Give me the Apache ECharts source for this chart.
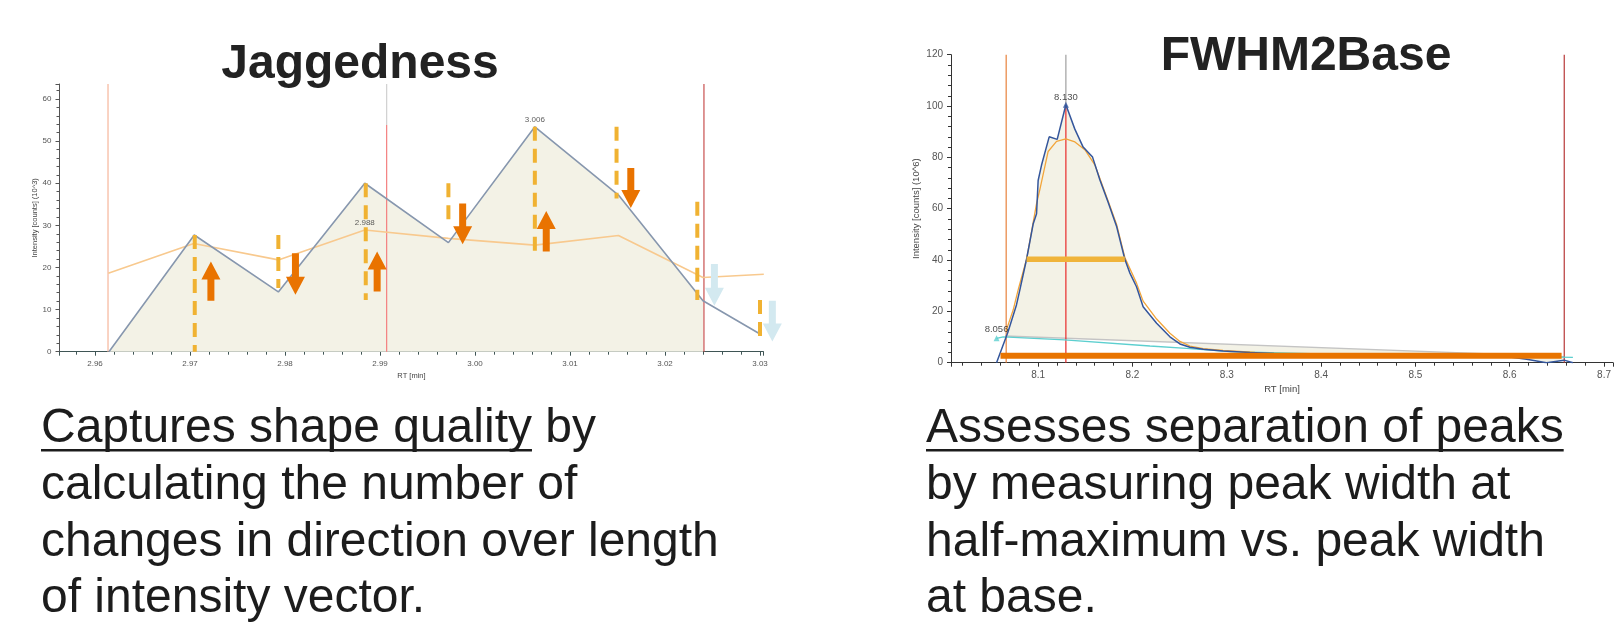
<!DOCTYPE html>
<html><head><meta charset="utf-8">
<script src="https://cdn.jsdelivr.net/npm/echarts@6/dist/echarts.min.js"></script>
<style>html,body{margin:0;padding:0;background:#fff}#c{width:1614px;height:627px}</style>
</head><body><div id="c"></div>
<script>
// ---------- LEFT: Jaggedness ----------
const leftRT        = [2.96147, 2.97045, 2.9793, 2.9884, 2.9972, 3.0063, 3.0151, 3.0240, 3.0300];
const leftIntensity = [0, 27.7, 14.2, 40.0, 25.9, 53.4, 37.2, 12.1, 4.2];
const leftSmoothRT  = [2.9614, 2.9704, 2.9793, 2.9884, 2.9972, 3.0063, 3.0151, 3.0240, 3.0304];
const leftSmooth    = [18.6, 25.7, 21.8, 28.9, 26.9, 25.3, 27.6, 17.6, 18.4];
const leftFillEndRT = 3.0240;
const leftDashRT     = [2.9705, 2.9793, 2.9885, 2.9972, 3.0063, 3.0149, 3.0234, 3.0300];
const leftDashTop    = [27.7, 27.7, 40.0, 40.0, 53.4, 53.4, 35.6, 12.3];
const leftDashBottom = [0, 15.1, 12.3, 29.7, 23.7, 36.4, 12.3, 2.8];
const leftArrowRT   = [2.9722, 2.9811, 2.9897, 2.9987, 3.0075, 3.0164];
const leftArrowFrom = [12.1, 23.4, 14.3, 35.2, 23.8, 43.6];
const leftArrowTo   = [21.4, 13.5, 23.8, 25.5, 33.4, 34.1];
const leftFadedArrowRT   = [3.0252, 3.0313];
const leftFadedArrowFrom = [20.8, 12.1];
const leftFadedArrowTo   = [10.9, 2.4];
const leftMarkRT   = [2.96137, 2.9907, 2.9907, 3.0241];
const leftMarkFrom = [0, 0, 53.8, 0];
const leftMarkTo   = [63.56, 53.8, 63.56, 63.56];
const leftLabelRT  = [3.0063, 2.9884];
const leftLabelY   = [55.0, 30.5];
const leftLabelText= ['3.006', '2.988'];

// ---------- RIGHT: FWHM2Base ----------
const rightRT = [8.0559, 8.068, 8.077, 8.0806, 8.0877, 8.0947, 8.0983, 8.1000, 8.1036, 8.1117, 8.1202, 8.1294, 8.1389, 8.1477, 8.1577, 8.1654, 8.1742, 8.1831, 8.1919, 8.1973, 8.2043, 8.2113, 8.2256, 8.2397, 8.2503, 8.2609, 8.275, 8.2962, 8.3245, 8.35, 8.4, 8.45, 8.5, 8.55, 8.6, 8.618, 8.639, 8.6577, 8.667];
const rightIntensity = [0, 12, 22.5, 28.4, 40.3, 54, 58, 71, 77, 88, 87, 100.5, 91, 84, 80.1, 71.3, 62.5, 53.2, 40.3, 34.9, 29.6, 21.8, 15.4, 10.1, 7.3, 6.0, 5.2, 4.6, 4.0, 3.6, 3.2, 3.0, 2.8, 2.6, 2.2, 1.3, 0, 1.0, 0];
const rightFitRT = [8.0661, 8.0735, 8.0788, 8.0877, 8.0983, 8.1018, 8.1106, 8.1195, 8.1294, 8.139, 8.1495, 8.1601, 8.1742, 8.1831, 8.1919, 8.2043, 8.2113, 8.2256, 8.2397, 8.2503, 8.2609, 8.275, 8.296, 8.33];
const rightFit   = [12.5, 20.5, 28.4, 40.3, 62, 67.4, 82.3, 86.2, 87.2, 86.0, 83.0, 77.1, 63, 54, 41, 31, 24, 17, 11.5, 8.3, 6.5, 5.5, 4.8, 4.0];
const rightBaseRT = [8.065, 8.658];
const rightBase   = [10.4, 2.4];
const rightCyanRT = [8.0559, 8.063, 8.128, 8.2185, 8.2573, 8.3033, 8.4, 8.5, 8.6, 8.667];
const rightCyan   = [9.5, 10.1, 8.9, 6.5, 5.6, 4.3, 3.4, 2.9, 2.5, 2.1];
const rightHalfRT = [8.0877, 8.1919];
const rightHalfY  = 40.3;
const rightBaseBarRT = [8.0601, 8.655];
const rightBaseBarY  = 2.7;
const rightMarkRT   = [8.0661, 8.1294, 8.1294, 8.6578];
const rightMarkFrom = [0, 0, 100.5, 0];
const rightMarkTo   = [120, 100.5, 120, 120];
const rightLabelRT  = [8.1294, 8.0559];
const rightLabelY   = [103.5, 13.0];
const rightLabelText= ['8.130', '8.056'];

// ---------- texts ----------
const titles = ['Jaggedness', 'FWHM2Base'];
const leftUnderlined = 'Captures shape quality';
const leftLines = [' by', 'calculating the number of', 'changes in direction over length', 'of intensity vector.'];
const rightLines = ['Assesses separation of peaks', 'by measuring peak width at', 'half-maximum vs. peak width', 'at base.'];

// ---------- helpers ----------
const zip = (xs, ys) => xs.map((x, i) => [x, ys[i]]);
const seg3 = (xs, a, b) => xs.map((x, i) => [x, a[i], b[i]]);

function segRender(colors, width, dash) {
  return function (params, api) {
    const x = api.value(0);
    const p0 = api.coord([x, api.value(1)]);
    const p1 = api.coord([x, api.value(2)]);
    return { type: 'line', shape: { x1: p0[0], y1: p0[1], x2: p1[0], y2: p1[1] },
      style: { stroke: colors[params.dataIndex % colors.length], lineWidth: width, lineDash: dash || null } };
  };
}
function arrowRender(color) {
  return function (params, api) {
    const x = api.value(0);
    const a = api.coord([x, api.value(1)]);
    const b = api.coord([x, api.value(2)]);
    const d = b[1] > a[1] ? 1 : -1;
    const hw = 9.5, sw = 3.5, hl = 18;
    const by = b[1] - d * hl, cx = a[0];
    return { type: 'polygon', shape: { points: [[cx - sw, a[1]], [cx + sw, a[1]], [cx + sw, by], [cx + hw, by], [cx, b[1]], [cx - hw, by], [cx - sw, by]] },
      style: { fill: color } };
  };
}
function polyRender(points, color) {
  return function (params, api) {
    return { type: 'polygon', shape: { points: points.map(p => api.coord(p)) }, style: { fill: color } };
  };
}

const leftFillPts = [[leftRT[0], 0]].concat(zip(leftRT, leftIntensity).filter(p => p[0] <= leftFillEndRT)).concat([[leftFillEndRT, 0]]);
const blueR = zip(rightRT, rightIntensity);
const rightFillPts = [[rightBaseRT[0], rightBase[0]]].concat(blueR.filter(p => p[0] > rightBaseRT[0] && p[0] < rightBaseRT[1])).concat([[rightBaseRT[1], rightBase[1]]]);

// ---------- text layout ----------
const FONT = '"Liberation Sans", Arial, sans-serif';
const mctx = document.createElement('canvas').getContext('2d');
mctx.font = '48px ' + FONT;
const ulW = mctx.measureText(leftUnderlined).width;
const rULW = mctx.measureText(rightLines[0]).width;
const baselines = [445, 502, 559, 615];
const MID = 16.6;
const txtStyle = (t, x, y) => ({ type: 'text', x: x, y: y, silent: true,
  style: { text: t, font: '48px ' + FONT, fill: '#1c1c1c', align: 'left', verticalAlign: 'middle' } });

const graphics = [
  { type: 'text', x: 360, y: 81 - MID, silent: true, style: { text: titles[0], font: 'bold 48px ' + FONT, fill: '#222', align: 'center', verticalAlign: 'middle' } },
  { type: 'text', x: 1306, y: 73 - MID, silent: true, style: { text: titles[1], font: 'bold 48px ' + FONT, fill: '#222', align: 'center', verticalAlign: 'middle' } },
  txtStyle(leftUnderlined, 41, baselines[0] - MID),
  txtStyle(leftLines[0], 41 + ulW, baselines[0] - MID),
  txtStyle(leftLines[1], 41, baselines[1] - MID),
  txtStyle(leftLines[2], 41, baselines[2] - MID),
  txtStyle(leftLines[3], 41, baselines[3] - MID),
  { type: 'rect', silent: true, shape: { x: 41, y: baselines[0] + 4, width: ulW, height: 2.5 }, style: { fill: '#1c1c1c' } },
  txtStyle(rightLines[0], 926, baselines[0] - MID),
  txtStyle(rightLines[1], 926, baselines[1] - MID),
  txtStyle(rightLines[2], 926, baselines[2] - MID),
  txtStyle(rightLines[3], 926, baselines[3] - MID),
  { type: 'rect', silent: true, shape: { x: 926, y: baselines[0] + 4, width: rULW, height: 2.5 }, style: { fill: '#1c1c1c' } }
];

// ---------- axes ----------
const axisCommon = (fs, col, fmt, showMin, showMax) => ({
  axisLine: { show: true, lineStyle: { color: col, width: 1 } },
  axisTick: { show: true, inside: false, length: 4, lineStyle: { color: col } },
  minorTick: { show: true, splitNumber: 5, length: 3, lineStyle: { color: col } },
  splitLine: { show: false },
  axisLabel: { fontSize: fs, color: '#555', fontFamily: FONT, showMinLabel: showMin, showMaxLabel: showMax, formatter: fmt },
  nameTextStyle: { fontSize: fs - 0.5, color: '#444', fontFamily: FONT }
});

const chart = echarts.init(document.getElementById('c'), null, { renderer: 'canvas' });
const option = {
  animation: false,
  backgroundColor: '#ffffff',
  grid: [
    { left: 59.5, top: 84, width: 703.9, height: 267.7 },
    { left: 951, top: 54.7, width: 663, height: 308 }
  ],
  xAxis: [
    Object.assign(axisCommon(8, '#3f5555', v => v.toFixed(2), false, false), { gridIndex: 0, type: 'value', min: 2.956263, max: 3.030358,
      name: 'RT [min]', nameLocation: 'middle', nameGap: 20 }),
    Object.assign(axisCommon(10, '#333', v => v.toFixed(1), false, false), { gridIndex: 1, type: 'value', min: 8.0076, max: 8.7095,
      name: 'RT [min]', nameLocation: 'middle', nameGap: 22 })
  ],
  yAxis: [
    Object.assign(axisCommon(8, '#555', v => String(v), true, false), { gridIndex: 0, type: 'value', min: 0, max: 63.56, interval: 10,
      name: 'Intensity [counts] (10^3)', nameLocation: 'middle', nameGap: 17 }),
    Object.assign(axisCommon(10, '#333', v => String(v), true, true), { gridIndex: 1, type: 'value', min: 0, max: 120, interval: 20,
      name: 'Intensity [counts] (10^6)', nameLocation: 'middle', nameGap: 30 })
  ],
  graphic: graphics,
  series: [
    // LEFT
    { type: 'custom', xAxisIndex: 0, yAxisIndex: 0, silent: true, z: 1, data: [leftFillPts[0]], renderItem: polyRender(leftFillPts, '#f3f2e6') },
    { type: 'custom', xAxisIndex: 0, yAxisIndex: 0, silent: true, z: 2, encode: { x: 0, y: [1, 2] },
      data: seg3(leftMarkRT, leftMarkFrom, leftMarkTo), renderItem: segRender(['#f6b59b', '#f47f7f', '#d0d0d0', '#c8504f'], 1.2) },
    { type: 'line', xAxisIndex: 0, yAxisIndex: 0, silent: true, z: 3, showSymbol: false, data: zip(leftSmoothRT, leftSmooth), lineStyle: { color: '#f8c98e', width: 1.6 } },
    { type: 'line', xAxisIndex: 0, yAxisIndex: 0, silent: true, z: 4, showSymbol: false, data: zip(leftRT, leftIntensity), lineStyle: { color: '#8797ae', width: 1.6 } },
    { type: 'custom', xAxisIndex: 0, yAxisIndex: 0, silent: true, z: 5, encode: { x: 0, y: [1, 2] },
      data: seg3(leftDashRT, leftDashTop, leftDashBottom), renderItem: segRender(['#f0b232'], 4, [14, 8]) },
    { type: 'custom', xAxisIndex: 0, yAxisIndex: 0, silent: true, z: 6, encode: { x: 0, y: [1, 2] },
      data: seg3(leftArrowRT, leftArrowFrom, leftArrowTo), renderItem: arrowRender('#e97300') },
    { type: 'custom', xAxisIndex: 0, yAxisIndex: 0, silent: true, z: 6, encode: { x: 0, y: [1, 2] },
      data: seg3(leftFadedArrowRT, leftFadedArrowFrom, leftFadedArrowTo), renderItem: arrowRender('#d3e9f0') },
    { type: 'scatter', xAxisIndex: 0, yAxisIndex: 0, silent: true, z: 7, symbolSize: 0,
      data: leftLabelRT.map((x, i) => ({ value: [x, leftLabelY[i]], name: leftLabelText[i] })),
      label: { show: true, position: 'inside', formatter: '{b}', fontSize: 8, color: '#333', fontFamily: FONT } },
    // RIGHT
    { type: 'custom', xAxisIndex: 1, yAxisIndex: 1, silent: true, z: 1, data: [rightFillPts[0]], renderItem: polyRender(rightFillPts, '#f3f2e6') },
    { type: 'line', xAxisIndex: 1, yAxisIndex: 1, silent: true, z: 2, showSymbol: false, data: zip(rightBaseRT, rightBase), lineStyle: { color: '#c4c4c4', width: 1.3 } },
    { type: 'line', xAxisIndex: 1, yAxisIndex: 1, silent: true, z: 3, showSymbol: false, data: zip(rightCyanRT, rightCyan), lineStyle: { color: '#5ccfcf', width: 1.3 } },
    { type: 'custom', xAxisIndex: 1, yAxisIndex: 1, silent: true, z: 3, encode: { x: 0, y: [1, 2] },
      data: seg3(rightMarkRT, rightMarkFrom, rightMarkTo), renderItem: segRender(['#e8823c', '#e82a2a', '#a0a0a0', '#b83838'], 1.2) },
    { type: 'line', xAxisIndex: 1, yAxisIndex: 1, silent: true, z: 4, showSymbol: false, data: zip(rightFitRT, rightFit), lineStyle: { color: '#f2a53a', width: 1.3 } },
    { type: 'line', xAxisIndex: 1, yAxisIndex: 1, silent: true, z: 5, showSymbol: false, data: blueR, lineStyle: { color: '#34569c', width: 1.5 } },
    { type: 'line', xAxisIndex: 1, yAxisIndex: 1, silent: true, z: 6, showSymbol: false, data: rightHalfRT.map(x => [x, rightHalfY]), lineStyle: { color: '#f0b43a', width: 5.5 } },
    { type: 'line', xAxisIndex: 1, yAxisIndex: 1, silent: true, z: 6, showSymbol: false, data: rightBaseBarRT.map(x => [x, rightBaseBarY]), lineStyle: { color: '#e87400', width: 6 } },
    { type: 'scatter', xAxisIndex: 1, yAxisIndex: 1, silent: true, z: 7, symbol: 'triangle', symbolSize: 6,
      data: [{ value: [rightRT[11], rightIntensity[11]], itemStyle: { color: '#34569c' } }, { value: [rightCyanRT[0], rightCyan[0]], itemStyle: { color: '#5ccfcf' } }] },
    { type: 'scatter', xAxisIndex: 1, yAxisIndex: 1, silent: true, z: 8, symbolSize: 0,
      data: rightLabelRT.map((x, i) => ({ value: [x, rightLabelY[i]], name: rightLabelText[i] })),
      label: { show: true, position: 'inside', formatter: '{b}', fontSize: 9.5, color: '#222', fontFamily: FONT } }
  ]
};
chart.setOption(option);
</script>
</body></html>
